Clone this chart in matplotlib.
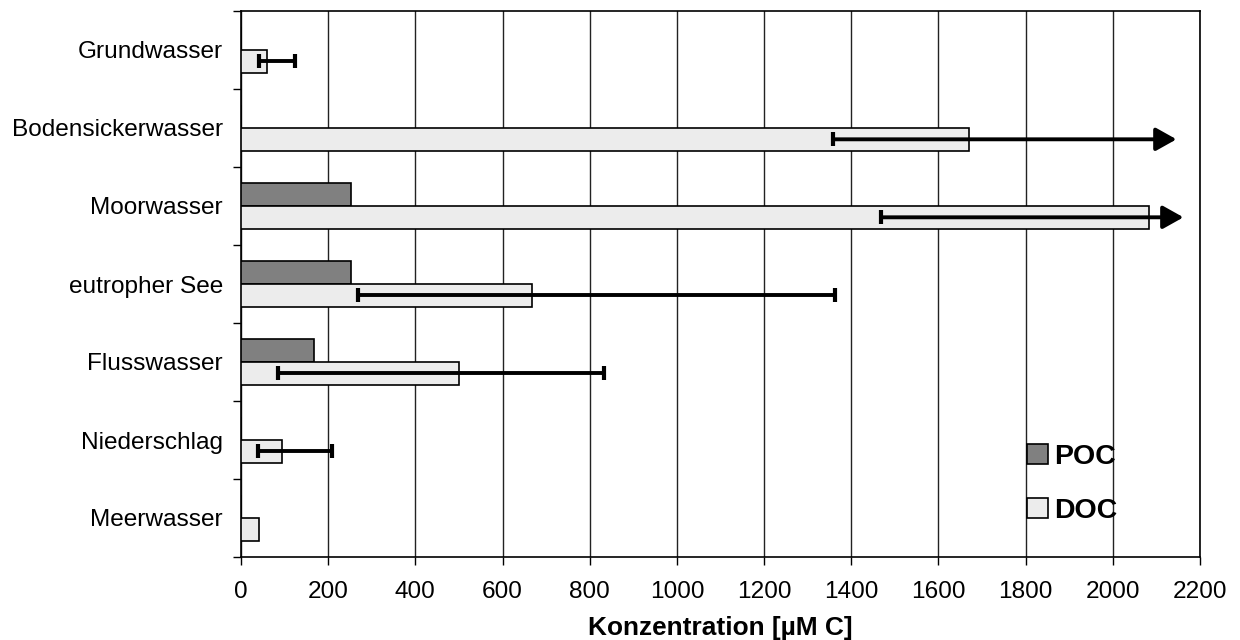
import matplotlib.pyplot as plt
from matplotlib.patches import Patch

plt.rcParams['font.family'] = ['Liberation Sans', 'DejaVu Sans']

# Kohlenstoffkonzentrationen in natürlichen Gewässern (µM C)
kategorien = ['Meerwasser', 'Niederschlag', 'Flusswasser', 'eutropher See',
              'Moorwasser', 'Bodensickerwasser', 'Grundwasser']
poc = [0, 0, 168, 252, 252, 0, 0]
doc = [42, 93, 501, 668, 2082, 1670, 60]

# Bereich (min / max) des DOC; None = kein Bereich angegeben
doc_min = [None, 40, 84, 268, 1468, 1358, 41]
doc_max = [None, 208, 832, 1362, 2162, 2146, 125]
# Bereich geht über die Achse hinaus -> Pfeil
offen = [False, False, False, False, True, True, False]

xticks = list(range(0, 2201, 200))

fig = plt.figure(figsize=(12.4, 6.4), dpi=100)
ax = fig.add_axes([241 / 1240, 83 / 640, 959 / 1240, 546 / 640])

h = 0.29
y = list(range(len(kategorien)))
y_poc = [v + h / 2 for v in y]
y_doc = [v - h / 2 for v in y]

ax.barh(y_poc, poc, height=h, color='#808080', edgecolor='black', linewidth=1.2, zorder=3)
ax.barh(y_doc, doc, height=h, color='#ececec', edgecolor='black', linewidth=1.2, zorder=3)

for yy, lo, hi, pfeil in zip(y_doc, doc_min, doc_max, offen):
    if lo is None:
        continue
    if pfeil:
        ax.annotate('', xy=(hi, yy), xytext=(lo, yy),
                    arrowprops=dict(arrowstyle='-|>,head_length=1.25,head_width=0.7',
                                    color='black', lw=2.8, shrinkA=0, shrinkB=0),
                    zorder=5, annotation_clip=False)
        ax.plot([lo, lo], [yy - 0.09, yy + 0.09], color='black', lw=3, zorder=5,
                solid_capstyle='butt')
    else:
        ax.plot([lo, hi], [yy, yy], color='black', lw=2.8, zorder=5)
        for xx in (lo, hi):
            ax.plot([xx, xx], [yy - 0.09, yy + 0.09], color='black', lw=3, zorder=5,
                    solid_capstyle='butt')

ax.set_xlim(0, 2200)
ax.set_ylim(-0.5, len(kategorien) - 0.5)
ax.set_xticks(xticks)
ax.set_xticklabels([str(t) for t in xticks])
ax.set_yticks(y)
ax.set_yticklabels(kategorien)
ax.set_yticks([v + 0.5 for v in range(-1, len(kategorien))], minor=True)

ax.tick_params(axis='y', which='major', length=0, pad=13, labelsize=17.6)
ax.tick_params(axis='y', which='minor', length=6, width=1, direction='out')
ax.tick_params(axis='x', length=6, width=1, direction='out', pad=11.5, labelsize=17.6)

ax.grid(axis='x', color='#222222', linewidth=1, zorder=0)
ax.set_axisbelow(True)
for s in ax.spines.values():
    s.set_linewidth(1.2)
    s.set_color('black')

ax.set_xlabel('Konzentration [µM C]', fontsize=18.9, fontweight='bold', labelpad=9)

handles = [Patch(facecolor='#808080', edgecolor='black', linewidth=1.2, label='POC'),
           Patch(facecolor='#ececec', edgecolor='black', linewidth=1.2, label='DOC')]
ax.legend(handles=handles, loc='upper left', bbox_to_anchor=(1027 / 1240, 1 - 444 / 640),
          bbox_transform=fig.transFigure, frameon=False, borderaxespad=0,
          prop={'size': 20.5, 'weight': 'bold'}, handlelength=0.72, handleheight=0.72,
          handletextpad=0.22, labelspacing=0.98, borderpad=0)

fig.savefig('out.png', dpi=100)
